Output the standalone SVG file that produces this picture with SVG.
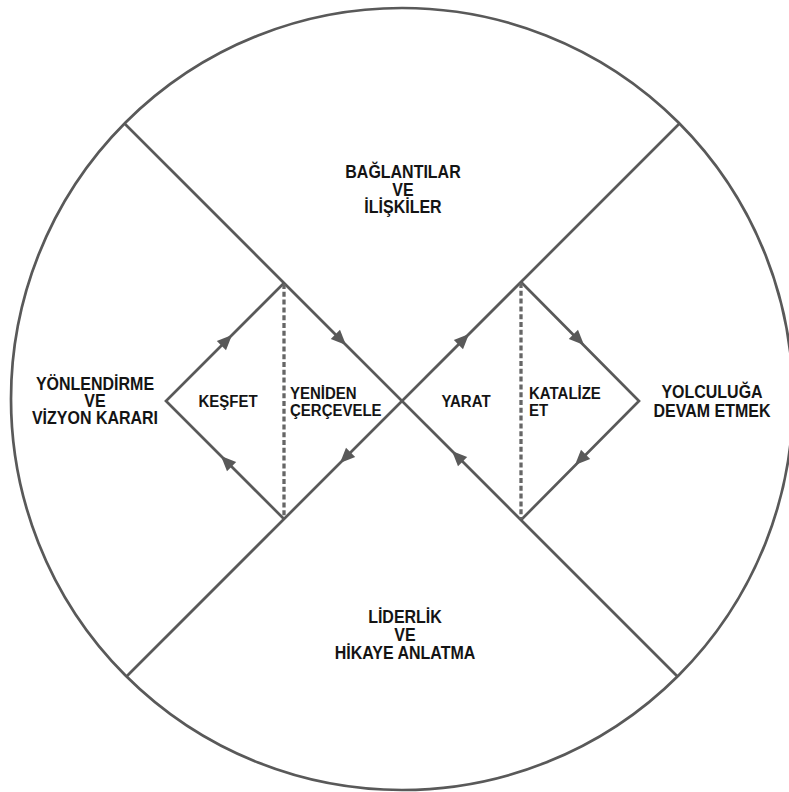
<svg xmlns="http://www.w3.org/2000/svg" xmlns:xlink="http://www.w3.org/1999/xlink" width="789" height="792" viewBox="0 0 789 792">
<style>
.ln{fill:none;stroke:#595959;stroke-width:2.7;stroke-linecap:butt;}
.dash{fill:none;stroke:#666;stroke-width:3.3;stroke-dasharray:5 2.8;}
.ah{fill:#595959;}
.t{font-family:"Liberation Sans",Arial,sans-serif;font-weight:bold;fill:#141414;}
.o{font-size:16px;text-anchor:middle;}
.i{font-size:15px;}
.m{text-anchor:middle;}
</style>
<defs>
<path id="ah" class="ah" d="M0,0 L-15,-6.5 L-15,6.5 Z"/>
</defs>
<rect width="789" height="792" fill="#fff"/>
<g id="frame">
<circle cx="402" cy="399" r="391" class="ln" stroke-width="2.6"/>
<line x1="124.5" y1="123.5" x2="677.5" y2="676.5" class="ln"/>
<line x1="679.5" y1="123.5" x2="126.5" y2="676.5" class="ln"/>
</g>
<g id="connectors">
<path class="ln" d="M284,519 L166,401 L284,283"/>
<path class="ln" d="M521,282 L639,401 L521,520"/>
<line class="dash" x1="284" y1="284" x2="284" y2="518"/>
<line class="dash" x1="521" y1="283" x2="521" y2="519"/>
<use xlink:href="#ah" transform="translate(232,335) rotate(-45)"/>
<use xlink:href="#ah" transform="translate(346,345) rotate(45)"/>
<use xlink:href="#ah" transform="translate(340,463) rotate(135)"/>
<use xlink:href="#ah" transform="translate(221,456) rotate(-135)"/>
<use xlink:href="#ah" transform="translate(469,334) rotate(-45)"/>
<use xlink:href="#ah" transform="translate(584,345) rotate(45)"/>
<use xlink:href="#ah" transform="translate(575,465) rotate(135)"/>
<use xlink:href="#ah" transform="translate(452,451) rotate(-135)"/>
</g>
<g id="baglantilar">
<text class="t o" transform="translate(403,178) scale(1,1.12)">BAĞLANTILAR</text>
<text class="t o" transform="translate(403,196) scale(1,1.12)">VE</text>
<text class="t o" transform="translate(403,213) scale(1,1.12)">İLİŞKİLER</text>
</g>
<g id="liderlik">
<text class="t o" transform="translate(405,623) scale(1,1.12)">LİDERLİK</text>
<text class="t o" transform="translate(405,641) scale(1,1.12)">VE</text>
<text class="t o" transform="translate(405,659) scale(1,1.12)">HİKAYE ANLATMA</text>
</g>
<g id="yonlendirme">
<text class="t o" transform="translate(95,390) scale(1,1.12)">YÖNLENDİRME</text>
<text class="t o" transform="translate(95,407) scale(1,1.12)">VE</text>
<text class="t o" transform="translate(95,424) scale(1,1.12)">VİZYON KARARI</text>
</g>
<g id="yolculuga">
<text class="t o" transform="translate(712,398) scale(1,1.12)">YOLCULUĞA</text>
<text class="t o" transform="translate(712,417) scale(1,1.12)">DEVAM ETMEK</text>
</g>
<g id="kesfet">
<text class="t i m" transform="translate(228,407) scale(1,1.12)">KEŞFET</text>
</g>
<g id="yeniden">
<text class="t i" transform="translate(290,399) scale(1,1.12)">YENİDEN</text>
<text class="t i" transform="translate(290,416) scale(1,1.12)">ÇERÇEVELE</text>
</g>
<g id="yarat">
<text class="t i m" transform="translate(466,407) scale(1,1.12)">YARAT</text>
</g>
<g id="katalize">
<text class="t i" transform="translate(529,399) scale(1,1.12)">KATALİZE</text>
<text class="t i" transform="translate(529,416) scale(1,1.12)">ET</text>
</g>
</svg>
